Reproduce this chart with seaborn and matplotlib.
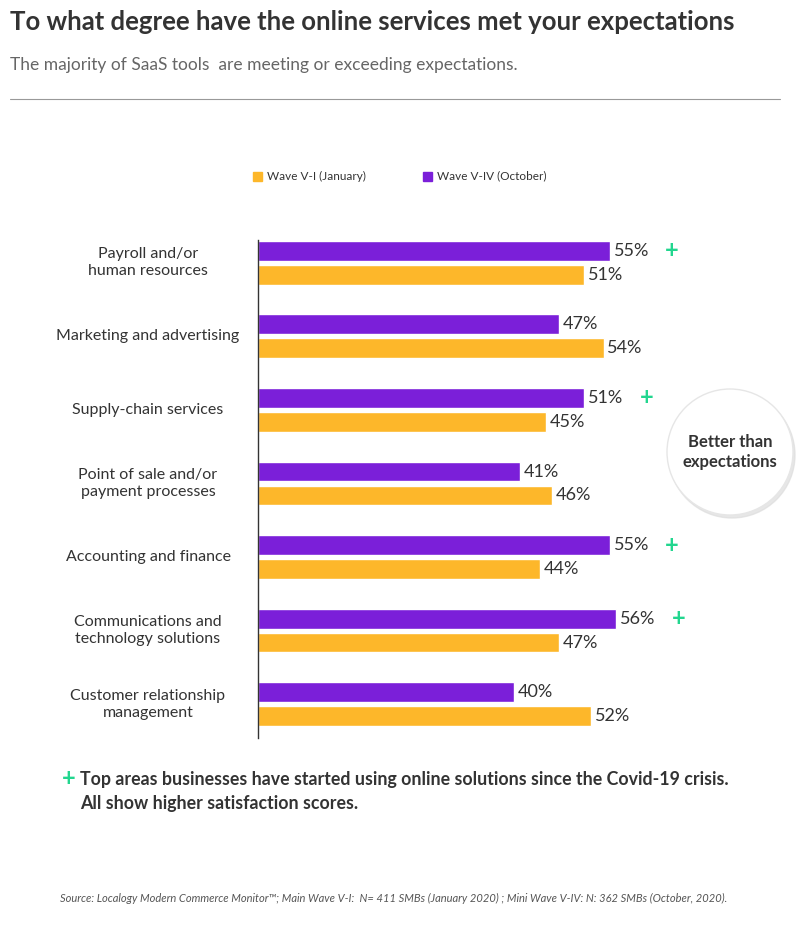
import matplotlib.pyplot as plt
import matplotlib.patches as mpatches
import pandas as pd
import seaborn as sns

sns.set_theme(style="white")
plt.rcParams['font.family'] = ['Lato', 'DejaVu Sans']

categories = ["Payroll and/or\nhuman resources", "Marketing and advertising",
              "Supply-chain services", "Point of sale and/or\npayment processes",
              "Accounting and finance", "Communications and\ntechnology solutions",
              "Customer relationship\nmanagement"]
wave_oct = [55, 47, 51, 41, 55, 56, 40]
wave_jan = [51, 54, 45, 46, 44, 47, 52]
plus = [True, False, True, False, True, True, False]

purple = "#7B1FD9"
orange = "#FDB72A"
green = "#22D68F"

df = pd.DataFrame({
    "cat": categories * 2,
    "val": wave_oct + wave_jan,
    "wave": ["Wave V-IV (October)"] * 7 + ["Wave V-I (January)"] * 7,
})

W, H = 805, 932
fig = plt.figure(figsize=(W / 100, H / 100), dpi=100)
ax = fig.add_axes([258 / W, 1 - 738 / H, (W - 258) / W, 498 / H])
sns.barplot(data=df, y="cat", x="val", hue="wave", orient="h",
            hue_order=["Wave V-IV (October)", "Wave V-I (January)"],
            palette=[purple, orange], width=0.65, gap=0.17, ax=ax,
            legend=False, saturation=1)
ax.set_xlim(0, (W - 258) / 6.4)
ax.set_ylim(6.46, -0.31)
ax.set_xlabel("")
ax.set_ylabel("")
ax.set_xticks([])
ax.set_yticklabels([])
ax.tick_params(axis="y", length=0)
for s in ["top", "right", "bottom"]:
    ax.spines[s].set_visible(False)
ax.spines["left"].set_color("#333333")
ax.spines["left"].set_linewidth(1)

# category labels centred left of the axis
for i, cat in enumerate(categories):
    ax.annotate(cat, xy=(0, i), xycoords=("axes fraction", "data"),
                xytext=(-110, 0), textcoords="offset pixels", ha="center", va="center",
                fontsize=11.5, color="#333333", linespacing=1.25)

for i in range(7):
    ax.text(wave_oct[i] + 0.6, i - 0.1625, f"{wave_oct[i]}%", va="center",
            fontsize=13, color="#333333")
    ax.text(wave_jan[i] + 0.6, i + 0.1625, f"{wave_jan[i]}%", va="center",
            fontsize=13, color="#333333")
    if plus[i]:
        ax.text(wave_oct[i] + 8.6, i - 0.1625, "+", va="center", fontsize=17,
                color=green, fontweight="bold")

fig.text(10 / W, 1 - 22 / H, "To what degree have the online services met your expectations",
         fontsize=18.5, fontweight="bold", color="#333333", va="center")
fig.text(10 / W, 1 - 65 / H, "The majority of SaaS tools  are meeting or exceeding expectations.",
         fontsize=12.5, color="#666666", va="center")
fig.add_artist(plt.Line2D([10 / W, 780 / W], [1 - 99 / H] * 2, color="#999999", lw=0.8))

# legend
for x0, col, txt in [(253, orange, "Wave V-I (January)"), (423, purple, "Wave V-IV (October)")]:
    fig.add_artist(mpatches.Rectangle((x0 / W, 1 - 181 / H), 9 / W, 9 / H, color=col))
    fig.text((x0 + 14) / W, 1 - 176 / H, txt, fontsize=8.5, color="#333333", va="center")

# circle
cx, cy, r = 730 / W, 1 - 452 / H, 63
fig.add_artist(mpatches.Ellipse((cx + 2 / W, cy - 3 / H), 2 * r / W, 2 * r / H,
                                color="#dddddd", alpha=0.7))
fig.add_artist(mpatches.Ellipse((cx, cy), 2 * r / W, 2 * r / H, facecolor="white",
                                edgecolor="#e6e6e6"))
fig.text(cx, cy, "Better than\nexpectations", ha="center", va="center", fontsize=12,
         fontweight="bold", color="#333333", linespacing=1.3)

fig.text(62 / W, 1 - 779 / H, "+", fontsize=17, fontweight="bold", color=green, va="center")
fig.text(80 / W, 1 - 779 / H,
         "Top areas businesses have started using online solutions since the Covid-19 crisis.",
         fontsize=12.8, fontweight="bold", color="#333333", va="center")
fig.text(80 / W, 1 - 804 / H, "All show higher satisfaction scores.",
         fontsize=12.8, fontweight="bold", color="#333333", va="center")

fig.text(60 / W, 1 - 898 / H,
         "Source: Localogy Modern Commerce Monitor\u2122; Main Wave V-I:  N= 411 SMBs (January 2020) ; "
         "Mini Wave V-IV: N: 362 SMBs (October, 2020).",
         fontsize=8, style="italic", color="#555555", va="center")

fig.savefig("out.png", dpi=100)
